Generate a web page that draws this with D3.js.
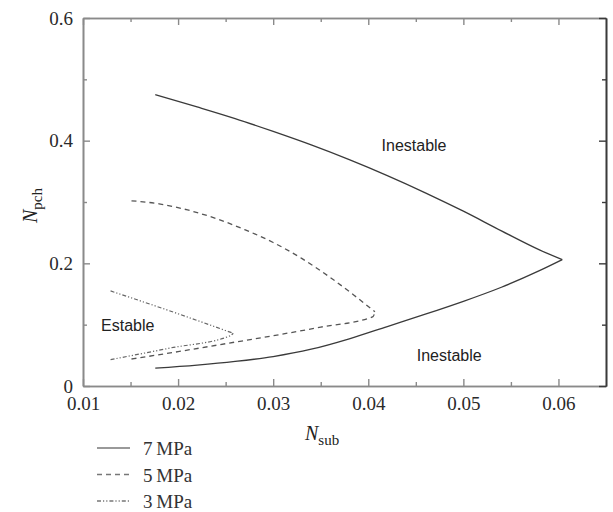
<!DOCTYPE html>
<html>
<head>
<meta charset="utf-8">
<script src="https://cdn.jsdelivr.net/npm/d3@7"></script>
<style>
  html, body { margin: 0; padding: 0; background: #fff; }
  svg { display: block; }
</style>
</head>
<body>
<svg id="chart" width="613" height="512"></svg>
<script>
// Stability map: N_pch vs N_sub for three system pressures
const xMajorTicks = [0.01, 0.02, 0.03, 0.04, 0.05, 0.06];
const xTickLabels = ["0.01", "0.02", "0.03", "0.04", "0.05", "0.06"];
const xMinorTicks = [0.015, 0.025, 0.035, 0.045, 0.055];
const yMajorTicks = [0, 0.2, 0.4, 0.6];
const yTickLabels = ["0", "0.2", "0.4", "0.6"];
const yMinorTicks = [0.1, 0.3, 0.5];

const seriesNames = ["7\u2009MPa", "5\u2009MPa", "3\u2009MPa"];

// 7 MPa boundary: upper and lower branches meeting at the nose
const nsub7Upper = [0.0176, 0.022, 0.026, 0.030, 0.034, 0.038, 0.042, 0.046, 0.050, 0.054, 0.058, 0.0604];
const npch7Upper = [0.475, 0.455, 0.436, 0.415, 0.393, 0.369, 0.343, 0.315, 0.285, 0.253, 0.222, 0.206];
const nsub7Lower = [0.0176, 0.022, 0.026, 0.030, 0.034, 0.038, 0.042, 0.046, 0.050, 0.054, 0.058, 0.0604];
const npch7Lower = [0.029, 0.034, 0.040, 0.048, 0.060, 0.077, 0.097, 0.117, 0.138, 0.161, 0.188, 0.206];

// 5 MPa boundary
const nsub5Upper = [0.0151, 0.018, 0.021, 0.024, 0.027, 0.030, 0.033, 0.036, 0.0385, 0.0407];
const npch5Upper = [0.302, 0.297, 0.287, 0.273, 0.255, 0.234, 0.208, 0.177, 0.148, 0.121];
const nsub5Lower = [0.0151, 0.020, 0.025, 0.030, 0.035, 0.0405, 0.0407];
const npch5Lower = [0.044, 0.056, 0.069, 0.082, 0.096, 0.113, 0.121];

// 3 MPa boundary
const nsub3Upper = [0.0129, 0.0194, 0.0258];
const npch3Upper = [0.155, 0.121, 0.086];
const nsub3Lower = [0.0129, 0.0192, 0.0255, 0.0258];
const npch3Lower = [0.043, 0.062, 0.082, 0.086];

const regionLabels = ["Inestable", "Inestable", "Estable"];
const regionAt = [[0.0414, 0.383], [0.0451, 0.041], [0.0119, 0.089]];

const margin = { top: 18, right: 7, bottom: 126, left: 83 };
const W = 613, H = 512;
const iw = W - margin.left - margin.right;
const ih = H - margin.top - margin.bottom;

const svg = d3.select("#chart");
const g = svg.append("g").attr("transform", `translate(${margin.left},${margin.top})`);

const x = d3.scaleLinear().domain([0.01, 0.065]).range([0, iw]);
const y = d3.scaleLinear().domain([0, 0.6]).range([ih, 0]);

const axisColor = "#8a8a8a";
const serif = "'Liberation Serif', 'Times New Roman', serif";
const sans = "'Liberation Sans', Arial, sans-serif";

function styleAxis(sel, color) {
  sel.attr("font-family", null);
  sel.selectAll("path.domain").attr("stroke", color).attr("stroke-width", 1.6);
  sel.selectAll(".tick line").attr("stroke", color).attr("stroke-width", 1.4);
  sel.selectAll(".tick text").attr("fill", "#2a2a2a")
    .style("font-family", serif).style("font-size", "19px");
}

// bottom axis with labels
const gx = g.append("g").attr("transform", `translate(0,${ih})`)
  .call(d3.axisBottom(x).tickValues(xMajorTicks)
    .tickFormat((d, i) => xTickLabels[i]).tickSize(-7).tickSizeOuter(0).tickPadding(11));
styleAxis(gx, axisColor);
const gxm = g.append("g").attr("transform", `translate(0,${ih})`)
  .call(d3.axisBottom(x).tickValues(xMinorTicks).tickFormat("").tickSize(-4).tickSizeOuter(0));
styleAxis(gxm, axisColor);

// top axis (ticks only)
const gt = g.append("g")
  .call(d3.axisTop(x).tickValues(xMajorTicks).tickFormat("").tickSize(-7).tickSizeOuter(0));
styleAxis(gt, axisColor);
const gtm = g.append("g")
  .call(d3.axisTop(x).tickValues(xMinorTicks).tickFormat("").tickSize(-4).tickSizeOuter(0));
styleAxis(gtm, axisColor);

// left axis with labels
const gy = g.append("g")
  .call(d3.axisLeft(y).tickValues(yMajorTicks)
    .tickFormat((d, i) => yTickLabels[i]).tickSize(-7).tickSizeOuter(0).tickPadding(10));
styleAxis(gy, axisColor);
const gym = g.append("g")
  .call(d3.axisLeft(y).tickValues(yMinorTicks).tickFormat("").tickSize(-4).tickSizeOuter(0));
styleAxis(gym, axisColor);

// right axis (ticks only)
const gr = g.append("g").attr("transform", `translate(${iw},0)`)
  .call(d3.axisRight(y).tickValues(yMajorTicks).tickFormat("").tickSize(-7).tickSizeOuter(0));
styleAxis(gr, "#3a3a3a");
const grm = g.append("g").attr("transform", `translate(${iw},0)`)
  .call(d3.axisRight(y).tickValues(yMinorTicks).tickFormat("").tickSize(-4).tickSizeOuter(0));
styleAxis(grm, "#3a3a3a");

// boundary curves, each branch monotone in N_sub
const line = d3.line().x(d => x(d[0])).y(d => y(d[1])).curve(d3.curveMonotoneX);
const zip = (xs, ys) => xs.map((v, i) => [v, ys[i]]);
const curves = [
  { branches: [zip(nsub7Upper, npch7Upper), zip(nsub7Lower, npch7Lower)], dash: null, color: "#3a3a3a", w: 1.3 },
  { branches: [zip(nsub5Upper, npch5Upper), zip(nsub5Lower, npch5Lower)], dash: "5,4", color: "#555", w: 1.3 },
  { branches: [zip(nsub3Upper, npch3Upper), zip(nsub3Lower, npch3Lower)], dash: "4,2,1.2,2,1.2,2", color: "#666", w: 1.2 }
];
curves.forEach(c => {
  c.branches.forEach(b => {
    g.append("path")
      .datum(b)
      .attr("d", line)
      .attr("fill", "none")
      .attr("stroke", c.color)
      .attr("stroke-width", c.w)
      .attr("stroke-dasharray", c.dash);
  });
});

// region labels
regionLabels.forEach((t, i) => {
  g.append("text")
    .attr("x", x(regionAt[i][0])).attr("y", y(regionAt[i][1]))
    .style("font-family", sans).style("font-size", "16px")
    .attr("fill", "#222")
    .text(t);
});

// axis titles
const xt = svg.append("text")
  .attr("x", 305).attr("y", 440)
  .style("font-family", serif).attr("fill", "#222");
xt.append("tspan").style("font-style", "italic").style("font-size", "20px").text("N");
xt.append("tspan").attr("dy", 5).style("font-size", "15px").text("sub");

const yt = svg.append("text")
  .attr("transform", "translate(37,223) rotate(-90)")
  .style("font-family", serif).attr("fill", "#222");
yt.append("tspan").style("font-style", "italic").style("font-size", "20px").text("N");
yt.append("tspan").attr("dy", 5).style("font-size", "15px").text("pch");

// legend
const legend = svg.append("g").attr("transform", "translate(97,448)");
curves.forEach((c, i) => {
  const row = legend.append("g").attr("transform", `translate(0,${i * 26.5})`);
  row.append("line").attr("x1", 0).attr("x2", 33).attr("y1", 0).attr("y2", 0)
    .attr("stroke", "#777").attr("stroke-width", 1.4)
    .attr("stroke-dasharray", c.dash);
  row.append("text").attr("x", 46).attr("y", 7)
    .style("font-family", serif).style("font-size", "19px").attr("fill", "#333")
    .text(seriesNames[i]);
});
</script>
</body>
</html>
